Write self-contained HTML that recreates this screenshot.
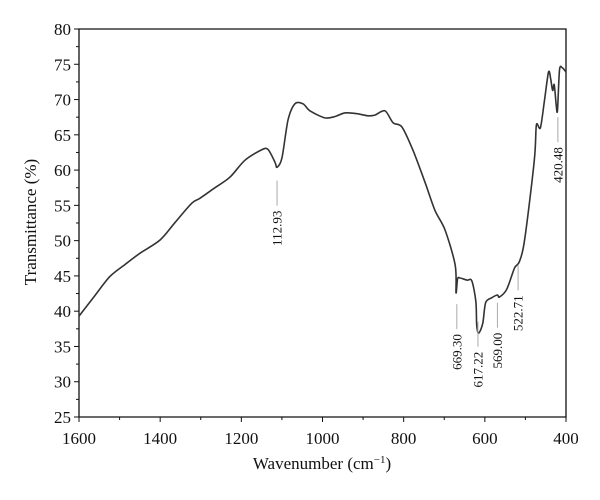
<!DOCTYPE html>
<html><head><meta charset="utf-8"><style>
body{margin:0;background:#fff}
svg text{font-family:"Liberation Serif",serif;fill:#111}
</style></head><body>
<svg id="c" width="600" height="495" xmlns="http://www.w3.org/2000/svg"></svg>
<script>
const xTicks=[1600,1400,1200,1000,800,600,400];
const yTicks=[25,30,35,40,45,50,55,60,65,70,75,80];
const wavenumbers=[1600,1561,1524,1487,1450,1400,1363,1322,1302,1265,1228,1191,1149,1134,1117,1112,1100,1085,1068,1048,1031,994,969,945,915,888,871,846,826,804,777,747,723,698,673,671,667,661,644,632,622,620,615,605,598,583,569,564,546,527,515,502,478,473,463,453,443,438,433,429,424,421,416,409,400];
const transmittance=[39.3,42.2,44.9,46.6,48.2,50.1,52.6,55.3,56,57.5,59,61.4,62.9,62.9,61.1,60.4,61.7,67.1,69.4,69.4,68.4,67.4,67.6,68.1,68,67.7,67.8,68.4,66.7,66.1,62.8,58.2,54.3,51.5,46.5,42.6,44.6,44.7,44.4,44.3,41.3,38,36.9,38.3,41.2,41.9,42.3,42,43.1,46.1,47,50.1,61.4,66.4,66,69.9,73.9,73,71.3,72.1,69.1,68.5,74.2,74.5,73.9];
const peakLabels=["112.93","669.30","617.22","569.00","522.71","420.48"];
const peakX=[1112,669,617,569,518,420];
const peakT=[58.5,41,38.5,41.2,46.5,67.5];
const L=79,R=566,T=29,B=417;
const sx=v=>L+(1600-v)/1200*(R-L);
const sy=v=>B-(v-25)/55*(B-T);
const svg=document.getElementById('c');const NS='http://www.w3.org/2000/svg';
function mk(t,a,txt){const e=document.createElementNS(NS,t);for(const k in a)e.setAttribute(k,a[k]);if(txt!=null)e.textContent=txt;svg.appendChild(e);return e;}
let ax=mk('path',{d:`M${L},${T}H${R}V${B}H${L}Z`,fill:'none',stroke:'#111','stroke-width':1.3});


xTicks.forEach((v,i)=>{const x=sx(v);
 let t=mk('line',{x1:x,x2:x,y1:B,y2:B+5,stroke:'#111'});
 
 
 if(i<xTicks.length-1){const m=sx(v-100);let mt=mk('line',{x1:m,x2:m,y1:B,y2:B+3,stroke:'#111'});
 
 }
 let l=mk('text',{x:x,y:B+27,'text-anchor':'middle','font-size':17},v);
 
 
});
yTicks.forEach((v,i)=>{const y=sy(v);
 let t=mk('line',{x1:L-5,x2:L,y1:y,y2:y,stroke:'#111'});
 
 
 if(i<yTicks.length-1){const m=sy(v+2.5);let mt=mk('line',{x1:L-3,x2:L,y1:m,y2:m,stroke:'#111'});
 
 }
 let l=mk('text',{x:L-8,y:y+6,'text-anchor':'end','font-size':17},v);
 
 
});
let xt=mk('text',{x:322,y:469,'text-anchor':'middle','font-size':17});
xt.innerHTML='Wavenumber (cm<tspan dy="-6" font-size="11">−1</tspan><tspan dy="6">)</tspan>';


let yt=mk('text',{x:0,y:0,'text-anchor':'middle','font-size':17,transform:'translate(36,222) rotate(-90)'},'Transmittance (%)');


const P=wavenumbers.map((w,i)=>[sx(w),sy(transmittance[i])]);
let d='M'+P[0][0].toFixed(1)+','+P[0][1].toFixed(1);
const k=0.15;
for(let i=0;i<P.length-1;i++){const p0=P[Math.max(i-1,0)],p1=P[i],p2=P[i+1],p3=P[Math.min(i+2,P.length-1)];
 const c1=[p1[0]+(p2[0]-p0[0])*k,p1[1]+(p2[1]-p0[1])*k],c2=[p2[0]-(p3[0]-p1[0])*k,p2[1]-(p3[1]-p1[1])*k];
 d+=`C${c1[0].toFixed(1)},${c1[1].toFixed(1)} ${c2[0].toFixed(1)},${c2[1].toFixed(1)} ${p2[0].toFixed(1)},${p2[1].toFixed(1)}`;}
let ln=mk('path',{d:d,fill:'none',stroke:'#333','stroke-width':1.6,'stroke-linejoin':'round'});


peakLabels.forEach((s,i)=>{const x=sx(peakX[i]);const y0=sy(peakT[i]);
 let pl=mk('line',{x1:x,x2:x,y1:y0,y2:y0+25,stroke:'#aaa','stroke-width':1});
 
 
 let pt=mk('text',{x:0,y:0,'text-anchor':'end','font-size':13,transform:`translate(${x+4.5},${y0+30}) rotate(-90)`},s);
 
 
});
</script>
</body></html>
